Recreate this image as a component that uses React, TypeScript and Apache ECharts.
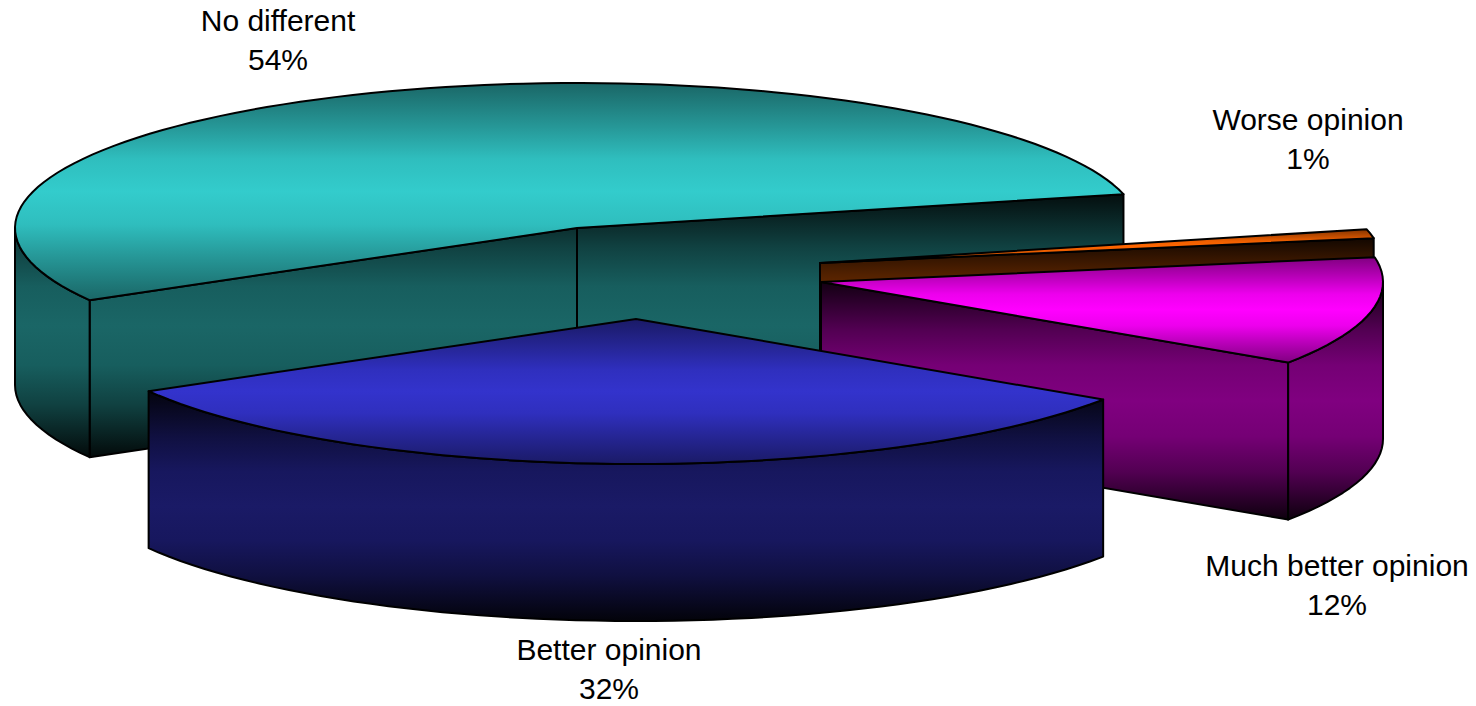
import React, { useEffect, useRef } from "react";
import * as echarts from "echarts";

// Data, in drawing order (back to front)
const categories = ["No different", "Worse opinion", "Much better opinion", "Better opinion"];
const percents = [54, 1, 12, 32];
// Order in which the slices run counter-clockwise round the pie (indexes into the lists above)
const angularOrder = [0, 3, 2, 1];

// Styling and layout
const baseColors = [[51, 204, 204], [255, 102, 0], [255, 0, 255], [51, 51, 204]];
const sliceCenters = [[577, 228], [820, 263], [821, 282], [636, 319]];
const labelCenters = [[278, 40], [1308, 139], [1337, 585], [609, 669]];
const RX = 562;
const RY = 145;
const DEPTH = 157;
const START_DEG = 13.5;
const STEP_DEG = 2;
const topShade = [[0, 0.5], [0.2, 0.74], [0.35, 0.93], [0.5, 1], [0.65, 0.93], [0.8, 0.74], [1, 0.5]];
const sideShade = [[0, 0.07], [0.2, 0.32], [0.35, 0.46], [0.5, 0.5], [0.65, 0.46], [0.8, 0.32], [1, 0.05]];

const rgb = (c: number[], k: number) =>
  `rgb(${Math.round(c[0] * k)},${Math.round(c[1] * k)},${Math.round(c[2] * k)})`;

function sliceAngles() {
  const total = percents.reduce((a, b) => a + b, 0);
  const out: Record<number, [number, number]> = {};
  let cur = START_DEG;
  angularOrder.forEach((i) => {
    const next = cur + (percents[i] / total) * 360;
    out[i] = [cur, next];
    cur = next;
  });
  return out;
}

function gradient(y0: number, y1: number, c: number[], shade: number[][]) {
  return {
    type: "linear",
    global: true,
    x: 0,
    y: y0,
    x2: 0,
    y2: y1,
    colorStops: shade.map(([offset, k]) => ({ offset, color: rgb(c, k) })),
  };
}

const rad = (d: number) => (d * Math.PI) / 180;

function App() {
  const ref = useRef<HTMLDivElement>(null);
  useEffect(() => {
    const chart = echarts.init(ref.current!, undefined, { renderer: "svg" });
    const angles = sliceAngles();

    const renderItem = (params: any, api: any) => {
      const i = params.dataIndex;
      const pct = api.value(0);
      const [cx, cy] = sliceCenters[i];
      const [a, b] = angles[i];
      const c = baseColors[i];
      const pt = (t: number): number[] => [cx + RX * Math.cos(rad(t)), cy - RY * Math.sin(rad(t))];
      const arc = (from: number, to: number) => {
        const pts: number[][] = [];
        for (let t = from; t < to; t += STEP_DEG) pts.push(pt(t));
        pts.push(pt(to));
        return pts;
      };
      const down = (p: number[]) => [p[0], p[1] + DEPTH];

      const topPts = [[cx, cy], ...arc(a, b)];
      const sidePolys: number[][][] = [];
      // radial faces turned towards the viewer
      if (Math.cos(rad(a)) > 0) {
        const p = pt(a);
        sidePolys.push([[cx, cy], p, down(p), [cx, cy + DEPTH]]);
      }
      if (Math.cos(rad(b)) < 0) {
        const p = pt(b);
        sidePolys.push([[cx, cy], p, down(p), [cx, cy + DEPTH]]);
      }
      // outer wall: only where the rim faces the viewer (180..360 degrees)
      [[180, 360], [540, 720], [-180, 0]].forEach(([lo, hi]) => {
        const s = Math.max(a, lo);
        const e = Math.min(b, hi);
        if (e > s) {
          const rim = arc(s, e);
          sidePolys.push([...rim, ...rim.slice().reverse().map(down)]);
        }
      });

      const topYs = topPts.map((p) => p[1]);
      const sideYs = sidePolys.flat().map((p) => p[1]);
      const sideFill = gradient(Math.min(...sideYs), Math.max(...sideYs), c, sideShade);
      const topFill = gradient(Math.min(...topYs), Math.max(...topYs), c, topShade);

      const [lx, ly] = labelCenters[i];
      return {
        type: "group",
        children: [
          ...sidePolys.map((points) => ({
            type: "polygon",
            shape: { points },
            style: { fill: sideFill, stroke: "#000", lineWidth: 2, lineJoin: "round" },
          })),
          {
            type: "polygon",
            shape: { points: topPts },
            style: { fill: topFill, stroke: "#000", lineWidth: 2, lineJoin: "round" },
          },
          {
            type: "text",
            z2: 100,
            style: {
              text: `${categories[i]}\n${pct}%`,
              x: lx,
              y: ly,
              align: "center",
              verticalAlign: "middle",
              fontFamily: "Liberation Sans",
              fontSize: 30,
              lineHeight: 39.5,
              fill: "#000",
            },
          },
        ],
      };
    };

    chart.setOption({
      animation: false,
      backgroundColor: "#fff",
      series: [
        {
          type: "custom",
          coordinateSystem: "none",
          silent: true,
          renderItem,
          data: percents.map((p, i) => ({ name: categories[i], value: [p] })),
        },
      ],
    });
    return () => chart.dispose();
  }, []);
  return (
    <div
      ref={ref}
      style={{ position: "absolute", left: 0, top: 0, width: 1476, height: 706 }}
    />
  );
}

export default App;
